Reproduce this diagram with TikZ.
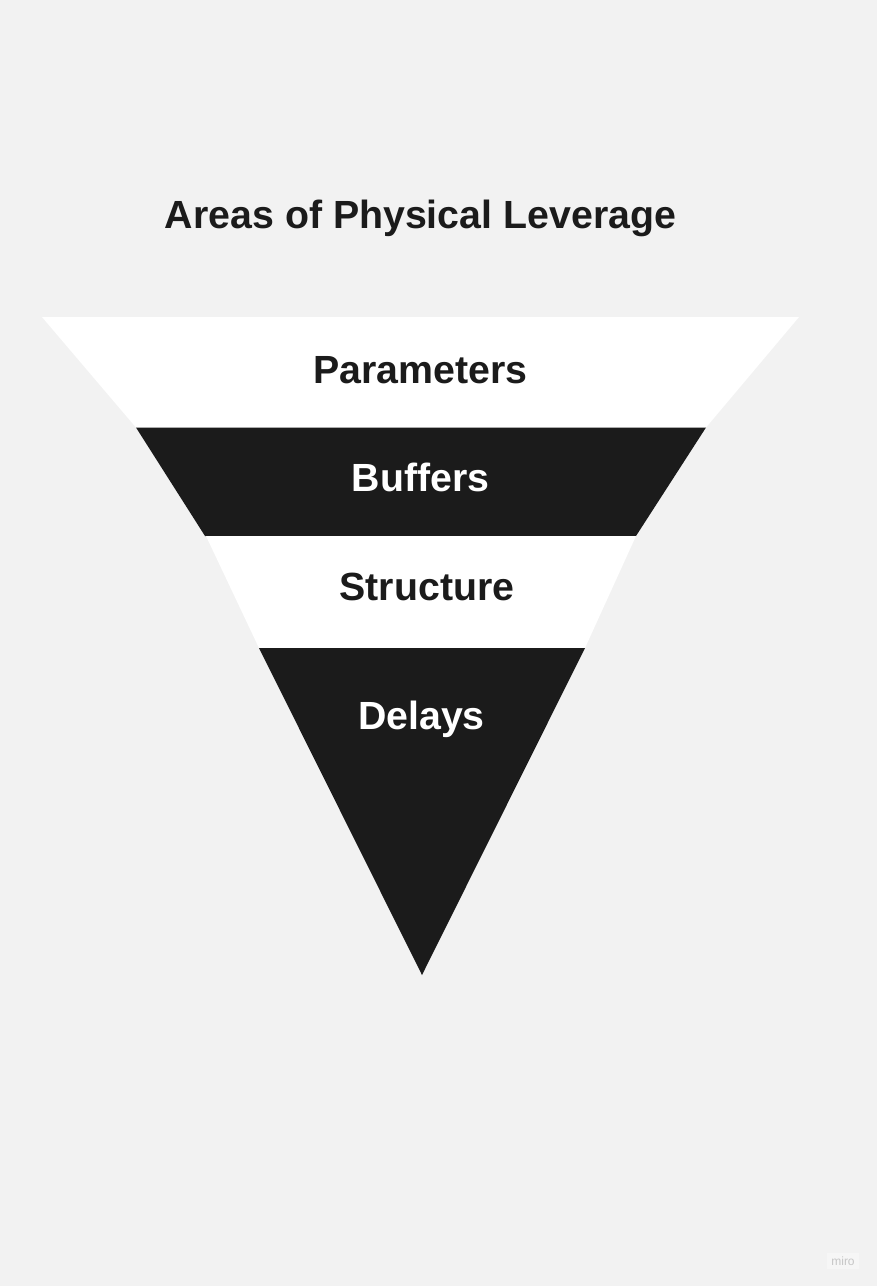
\documentclass[tikz,border=0pt]{standalone}
\usepackage{fontspec}
\setmainfont{Liberation Sans}
\usetikzlibrary{positioning}
\definecolor{darkband}{HTML}{1B1B1B}
\definecolor{paper}{HTML}{F2F2F2}
\definecolor{mirogrey}{HTML}{C6C6C6}
\definecolor{miropaper}{HTML}{F6F6F6}

\begin{document}
\begin{tikzpicture}[x=1pt,y=-1pt]
        \tikzstyle{band_light}=[fill=white]
        \tikzstyle{band_dark}=[fill=darkband]
        \tikzstyle{funnel_text}=[inner sep=0pt,anchor=base,font=\fontsize{39.3}{47}\selectfont\bfseries]
        \tikzstyle{text_dark}=[funnel_text,text=darkband]
        \tikzstyle{text_light}=[funnel_text,text=white]
        \fill[paper] (0,0) rectangle (877,1286);
        \useasboundingbox (0,0) rectangle (877,1286);

        % the four bands of the funnel
        \fill[band_light] (42,317) -- (799,317) -- (706,427.5) -- (136,427.5) -- cycle;
        \fill[band_dark]  (136,427.5) -- (706,427.5) -- (636,536) -- (205,536) -- cycle;
        \fill[band_light] (206,536) -- (636,536) -- (585,648) -- (259,648) -- cycle;
        \fill[band_dark]  (259,648) -- (585,648) -- (422,975) -- cycle;

        \node[text_dark]  (title)      at (420.5,228) {Areas of Physical Leverage};
        \node[text_dark]  (parameters) at (420.5,383) {Parameters};
        \node[text_light] (buffers)    at (420.5,491) {Buffers};
        \node[text_dark]  (structure)  at (427,600)   {Structure};
        \node[text_light] (delays)     at (421.5,729) {Delays};

        \node[fill=miropaper,text=mirogrey,font=\fontsize{12}{14}\selectfont,inner sep=4pt] (miro) at (843,1261) {miro};
\end{tikzpicture}
\end{document}
